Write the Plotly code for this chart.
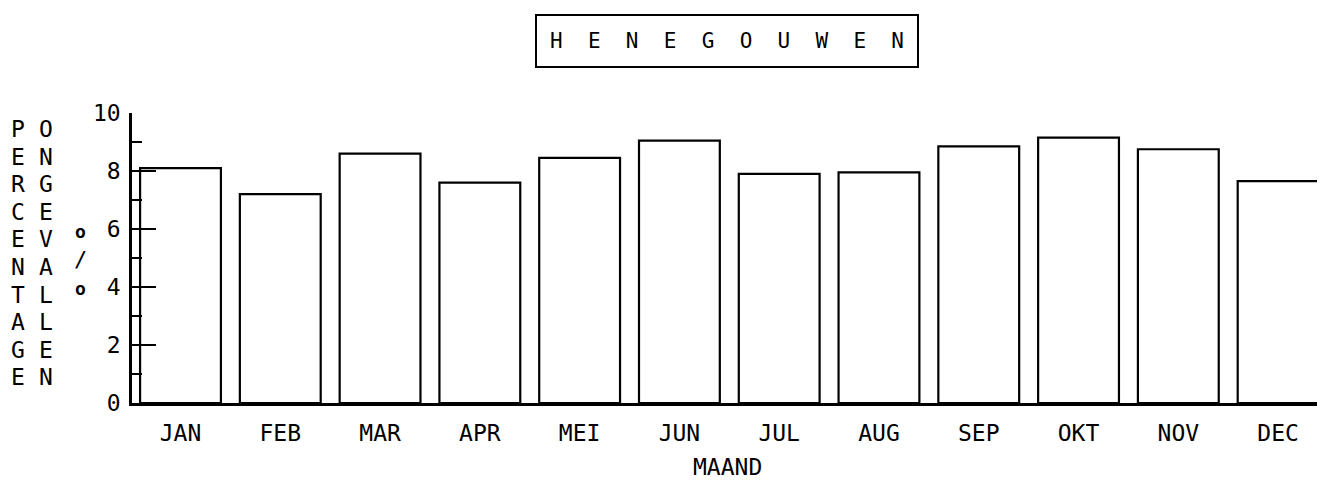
import plotly.graph_objects as go

months = ["JAN", "FEB", "MAR", "APR", "MEI", "JUN", "JUL", "AUG", "SEP", "OKT", "NOV", "DEC"]
values = [8.1, 7.2, 8.6, 7.6, 8.45, 9.05, 7.9, 7.95, 8.85, 9.15, 8.75, 7.65]
y_ticks = [0, 2, 4, 6, 8, 10]
title_text = "HENEGOUWEN"
ylabel1 = "PERCENTAGE"
ylabel2 = "ONGEVALLEN"
xlabel = "MAAND"

# The page body has a default 8px margin; compensate for it.
OFF = 8
W, H = 1325 - OFF, 497 - OFF
L, R, T, B = 132 - OFF, 0, 113 - OFF, 94
FONT = "DejaVu Sans Mono"

def px(x):
    return (x - OFF - L) / (W - L - R)

def py(y):
    return (H - B - (y - OFF)) / (H - T - B)

fig = go.Figure(go.Bar(
    x=months, y=values,
    marker=dict(color="white", line=dict(color="black", width=2.2)),
    hoverinfo="x+y",
))

annotations = []
# Title box
annotations.append(dict(
    text="\u00a0\u00a0".join(title_text), xref="paper", yref="paper",
    x=px(727), y=py(41), showarrow=False, xanchor="center", yanchor="middle",
    font=dict(family=FONT, size=21, color="black"),
    bordercolor="black", borderwidth=2, borderpad=13, bgcolor="white",
))
# Vertical stacked y labels
for col_x, word in ((18, ylabel1), (46, ylabel2)):
    for i, ch in enumerate(word):
        annotations.append(dict(
            text=ch, xref="paper", yref="paper",
            x=px(col_x), y=py(129 + 27.6 * i), showarrow=False,
            xanchor="center", yanchor="middle",
            font=dict(family=FONT, size=23, color="black"),
        ))
# per-cent sign drawn as o / o
for ch, yy, sz in (("<b>o</b>", 231, 18), ("/", 259, 22), ("<b>o</b>", 288, 18)):
    annotations.append(dict(
        text=ch, xref="paper", yref="paper", x=px(80), y=py(yy),
        showarrow=False, xanchor="center", yanchor="middle",
        font=dict(family=FONT, size=sz, color="black"),
    ))
# X axis title
annotations.append(dict(
    text=xlabel, xref="paper", yref="paper", x=px(727), y=py(467),
    showarrow=False, xanchor="center", yanchor="middle",
    font=dict(family=FONT, size=23, color="black"),
))

fig.update_layout(
    width=W, height=H,
    margin=dict(l=L, r=R, t=T, b=B, pad=0),
    paper_bgcolor="white", plot_bgcolor="white",
    showlegend=False, bargap=0.19,
    annotations=annotations,
    font=dict(family=FONT, size=22, color="black"),
)
fig.update_xaxes(
    range=[-0.486, 11.47], showgrid=False, zeroline=False,
    showline=True, linecolor="black", linewidth=2.5,
    ticks="", ticklabelstandoff=8,
    tickfont=dict(family=FONT, size=23, color="black"),
)
fig.update_yaxes(
    range=[0, 10], showgrid=False, zeroline=False,
    showline=True, linecolor="black", linewidth=2.5,
    tickmode="array", tickvals=y_ticks, ticktext=[str(v) for v in y_ticks],
    ticks="inside", ticklen=24, tickwidth=2, tickcolor="black",
    ticklabelstandoff=4,
    tickfont=dict(family=FONT, size=23, color="black"),
    minor=dict(ticks="inside", dtick=1, ticklen=10, tickwidth=2, tickcolor="black", showgrid=False),
)

fig.write_html("out.html")
